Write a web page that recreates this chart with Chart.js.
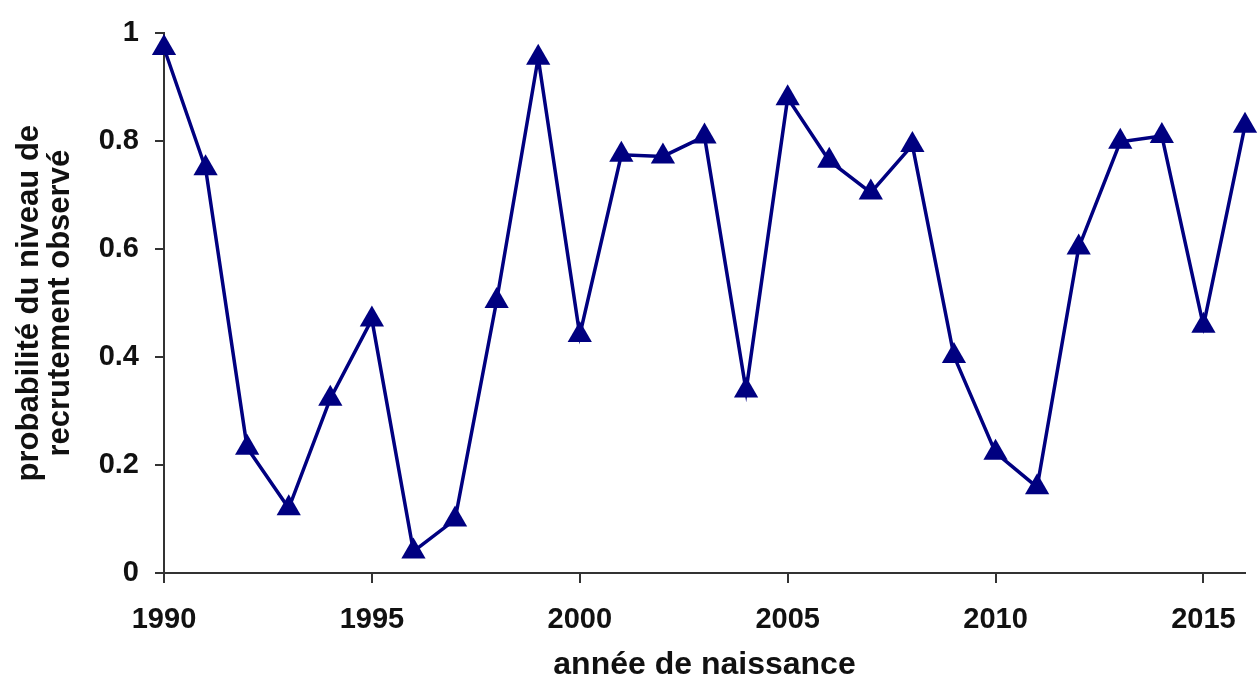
<!DOCTYPE html>
<html>
<head>
<meta charset="utf-8">
<script src="https://cdn.jsdelivr.net/npm/chart.js@4"></script>
<style>
  html, body { margin: 0; padding: 0; background: #fff; }
  #wrap { width: 1259px; height: 680px; }
</style>
</head>
<body>
<div id="wrap"><canvas id="chart" width="1259" height="680"></canvas></div>
<script>
// --- Data ---
const years = [1990, 1991, 1992, 1993, 1994, 1995, 1996, 1997, 1998, 1999,
               2000, 2001, 2002, 2003, 2004, 2005, 2006, 2007, 2008, 2009,
               2010, 2011, 2012, 2013, 2014, 2015, 2016];
const probabilities = [0.973, 0.750, 0.232, 0.120, 0.323, 0.470, 0.040, 0.099, 0.504, 0.955,
                       0.441, 0.775, 0.772, 0.809, 0.338, 0.880, 0.764, 0.705, 0.793, 0.402,
                       0.223, 0.159, 0.603, 0.799, 0.810, 0.458, 0.829];
const yTicks = [0, 0.2, 0.4, 0.6, 0.8, 1];
const xTicks = [1990, 1995, 2000, 2005, 2010, 2015];

const xTitle = 'année de naissance';
const yTitle = ['probabilité du niveau de', 'recrutement observé'];

const FONT = '"Liberation Sans", Arial, sans-serif';
const NAVY = '#000080';
const INK = '#111';

const points = years.map((yr, i) => ({ x: yr, y: probabilities[i] }));

new Chart(document.getElementById('chart'), {
    type: 'line',
    data: {
        datasets: [{
            data: points,
            borderColor: NAVY,
            backgroundColor: NAVY,
            borderWidth: 3.5,
            tension: 0,
            pointStyle: 'triangle',
            pointRadius: 14,
            pointBorderWidth: 0,
            pointBackgroundColor: NAVY,
            clip: false
        }]
    },
    options: {
        responsive: false,
        animation: false,
        layout: { padding: { top: 29, right: 9, left: 0, bottom: 0 } },
        plugins: {
            legend: { display: false },
            tooltip: { enabled: false }
        },
        scales: {
            x: {
                type: 'linear',
                min: 1990,
                max: 2016,
                afterBuildTicks: scale => { scale.ticks = xTicks.map(v => ({ value: v })); },
                grid: { display: true, drawOnChartArea: false, drawTicks: true, tickLength: 10, color: '#333', lineWidth: 2 },
                border: { display: true, color: '#333', width: 2 },
                ticks: {
                    color: INK,
                    font: { family: FONT, size: 29, weight: 'bold' },
                    padding: 20,
                    maxRotation: 0,
                    callback: v => String(v)
                },
                title: {
                    display: true,
                    text: xTitle,
                    color: INK,
                    font: { family: FONT, size: 32, weight: 'bold', lineHeight: 0.9 },
                    padding: { top: 0, bottom: 0 }
                },
                afterFit: scale => { scale.height = 680 - 573; }
            },
            y: {
                min: 0,
                max: 1,
                afterBuildTicks: scale => { scale.ticks = yTicks.map(v => ({ value: v })); },
                grid: { display: true, drawOnChartArea: false, drawTicks: true, tickLength: 9, color: '#333', lineWidth: 2 },
                border: { display: true, color: '#333', width: 2 },
                ticks: {
                    color: INK,
                    font: { family: FONT, size: 29, weight: 'bold' },
                    padding: 16,
                    callback: v => String(v)
                },
                title: {
                    display: true,
                    text: yTitle,
                    color: INK,
                    font: { family: FONT, size: 31, weight: 'bold', lineHeight: 1.0 },
                    padding: { top: 14, bottom: 0 }
                },
                afterFit: scale => { scale.width = 164; }
            }
        }
    }
});
</script>
</body>
</html>
